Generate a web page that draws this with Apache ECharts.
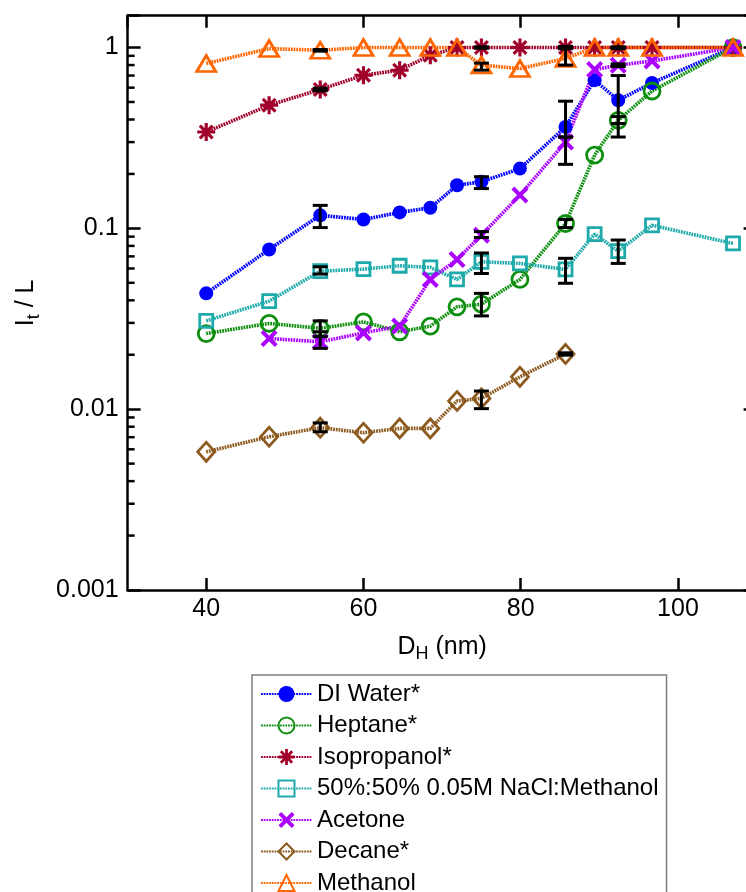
<!DOCTYPE html>
<html><head><meta charset="utf-8">
<script src="https://cdn.jsdelivr.net/npm/echarts@6/dist/echarts.min.js"></script>
<style>html,body{margin:0;padding:0;background:#fff;}#c{width:746px;height:892px;}</style>
</head><body><div id="c"></div>
<script>
// ---------- data ----------
const xValues = [40, 48, 54.5, 60, 64.6, 68.5, 71.9, 75, 79.9, 85.7, 89.4, 92.4, 96.7, 107];
const diWater     = [0.0437, 0.0764, 0.118, 0.112, 0.1225, 0.130, 0.173, 0.181, 0.214, 0.364, 0.66, 0.511, 0.637, 1.0];
const heptane     = [0.0262, 0.0298, 0.028, 0.0304, 0.0268, 0.0288, 0.0368, 0.0381, 0.0522, 0.1064, 0.254, 0.396, 0.575, 1.0];
const isopropanol = [0.341, 0.48, 0.586, 0.703, 0.749, 0.906, 1.0, 1.0, 1.0, 1.0, 1.0, 1.0, 1.0, 1.0];
const naclMethanol= [0.0308, 0.0396, 0.058, 0.0595, 0.0621, 0.0608, 0.0522, 0.0653, 0.064, 0.0593, 0.093, 0.0748, 0.104, 0.0825];
const acetone     = [null, 0.0246, 0.0236, 0.0264, 0.0288, 0.0522, 0.0673, 0.0917, 0.1527, 0.30, 0.756, 0.798, 0.843, 1.0];
const decane      = [0.00581, 0.00704, 0.0079, 0.00741, 0.00783, 0.00783, 0.0111, 0.01147, 0.0151, 0.0202, null, null, null, null];
const methanol    = [0.816, 0.987, 0.966, 1.0, 1.0, 1.0, 1.0, 0.80, 0.765, 0.87, 1.0, 1.0, 1.0, 1.0];

// error bars: [x, low, high]
const diWaterErr   = [[54.5, 0.101, 0.134], [75, 0.166, 0.193], [85.7, 0.32, 0.505], [92.4, 0.32, 0.70]];
const heptaneErr   = [[54.5, 0.0252, 0.0308], [75, 0.0328, 0.0437], [85.7, 0.101, 0.112], [92.4, 0.38, 0.415]];
const isoErr       = [[54.5, 0.576, 0.596], [75, 0.99, 1.01], [85.7, 0.985, 1.015]];
const naclErr      = [[54.5, 0.0559, 0.0613], [75, 0.0563, 0.0731], [85.7, 0.0497, 0.0683], [92.4, 0.064, 0.0862]];
const acetoneErr   = [[54.5, 0.0217, 0.0268], [75, 0.089, 0.096], [85.7, 0.226, 0.32], [92.4, 0.785, 0.812]];
const decaneErr    = [[54.5, 0.0075, 0.0084], [75, 0.01007, 0.0126], [85.7, 0.0199, 0.0205]];
const methanolErr  = [[54.5, 0.955, 0.975], [75, 0.75, 0.82], [85.7, 0.80, 1.0], [92.4, 0.985, 1.01]];

const seriesNames = ['DI Water*', 'Heptane*', 'Isopropanol*', '50%:50% 0.05M NaCl:Methanol', 'Acetone', 'Decane*', 'Methanol'];
const xTickLabels = ['40', '60', '80', '100'];
const yTickValues = [0.001, 0.01, 0.1, 1];
const yTickLabels = ['0.001', '0.01', '0.1', '1'];
const yMinorDecades = [0.001, 0.01, 0.1];
const yMinorMultipliers = [2, 3, 4, 5, 6, 7, 8, 9];

const X_MIN = 30, X_MAX = 110, Y_MIN = 0.001, Y_MAX = 1.5;
const FONT = '"Liberation Sans", Arial, sans-serif';

// ---------- symbols ----------
const ASTERISK = 'path://M-1.4,-8L1.4,-8L1.4,8L-1.4,8Z M-8,-1.4L8,-1.4L8,1.4L-8,1.4Z M6.65,4.67L4.67,6.65L-6.65,-4.67L-4.67,-6.65Z M4.67,-6.65L6.65,-4.67L-4.67,6.65L-6.65,4.67Z';
const XMARK = 'path://M6.79,4.53L4.53,6.79L-6.79,-4.53L-4.53,-6.79Z M4.53,-6.79L6.79,-4.53L-4.53,6.79L-6.79,4.53Z';

function pairs(ys) { return xValues.map((x, i) => [x, ys[i]]); }

function lineSeries(name, ys, color, symbol, size, open) {
  return {
    type: 'line', name: name, data: pairs(ys),
    symbol: symbol, symbolSize: size,
    showAllSymbol: true,
    lineStyle: { color: color, width: 3.6, type: [1.8, 0.9] },
    itemStyle: open ? { color: 'rgba(255,255,255,0)', borderColor: color, borderWidth: 2.8 }
                    : { color: color, borderWidth: 0 },
    emphasis: { disabled: true },
    z: 2
  };
}

const yMinorTicks = [];
yMinorDecades.forEach(d => yMinorMultipliers.forEach(m => yMinorTicks.push(+(d * m).toPrecision(6))));

const allErr = [].concat(diWaterErr, heptaneErr, isoErr, naclErr, acetoneErr, decaneErr, methanolErr);

function renderErr(params, api) {
  const x = api.value(0), lo = api.value(1), hi = api.value(2);
  const t = api.coord([x, hi]), b = api.coord([x, lo]);
  const hw = 7.5;
  const st = { stroke: '#000', lineWidth: 3 };
  return { type: 'group', children: [
    { type: 'line', shape: { x1: t[0], y1: t[1], x2: b[0], y2: b[1] }, style: st },
    { type: 'line', shape: { x1: t[0] - hw, y1: t[1], x2: t[0] + hw, y2: t[1] }, style: st },
    { type: 'line', shape: { x1: b[0] - hw, y1: b[1], x2: b[0] + hw, y2: b[1] }, style: st }
  ]};
}

function renderMinor(params, api) {
  const v = api.value(1);
  const l = api.coord([X_MIN, v]), r = api.coord([X_MAX, v]);
  const st = { stroke: '#000', lineWidth: 2.5 };
  return { type: 'group', children: [
    { type: 'line', shape: { x1: l[0], y1: l[1], x2: l[0] + 7, y2: l[1] }, style: st },
    { type: 'line', shape: { x1: r[0] - 7, y1: r[1], x2: r[0], y2: r[1] }, style: st }
  ]};
}

function yFmt(v) {
  for (let i = 0; i < yTickValues.length; i++) {
    if (Math.abs(v - yTickValues[i]) / yTickValues[i] < 1e-6) return yTickLabels[i];
  }
  return '';
}
function xFmt(v) {
  const s = String(Math.round(v));
  return xTickLabels.indexOf(s) >= 0 ? s : '';
}

const axisLineStyle = { show: true, onZero: false, lineStyle: { color: '#000', width: 2.5 } };

const option = {
  animation: false,
  backgroundColor: '#fff',
  textStyle: { fontFamily: FONT },
  grid: { left: 127.6, top: 15.7, width: 629, bottom: 302, containLabel: false, outerBoundsMode: 'none' },
  xAxis: [{
    type: 'value', position: 'bottom', min: X_MIN, max: X_MAX, minInterval: 20, maxInterval: 20,
    axisLine: axisLineStyle,
    axisTick: { show: true, inside: true, length: 12, lineStyle: { color: '#000', width: 2.5 } },
    axisLabel: { show: true, margin: 7, fontSize: 25, color: '#000', fontFamily: FONT, formatter: xFmt,
                 showMinLabel: false, showMaxLabel: false },
    splitLine: { show: false },
    name: '{a|D}{s|H}{a| (nm)}', nameLocation: 'middle', nameGap: 41,
    nameTextStyle: { rich: {
      a: { fontSize: 25, color: '#000', fontFamily: FONT },
      s: { fontSize: 18, color: '#000', fontFamily: FONT, padding: [14, 0, 0, 0] }
    } }
  }, {
    type: 'value', position: 'top', min: X_MIN, max: X_MAX, minInterval: 20, maxInterval: 20,
    axisLine: axisLineStyle,
    axisTick: { show: true, inside: true, length: 12, lineStyle: { color: '#000', width: 2.5 } },
    axisLabel: { show: false }, splitLine: { show: false }
  }],
  yAxis: [{
    type: 'log', logBase: 10, position: 'left', min: Y_MIN, max: Y_MAX,
    axisLine: axisLineStyle,
    axisTick: { show: true, inside: true, length: 13, lineStyle: { color: '#000', width: 2.5 } },
    axisLabel: { show: true, margin: 9, fontSize: 25, color: '#000', fontFamily: FONT, formatter: yFmt },
    splitLine: { show: false }, minorTick: { show: false },
    name: '{a|I}{s|t}{a| / L}', nameLocation: 'middle', nameGap: 85, nameRotate: 90,
    nameTextStyle: { rich: {
      a: { fontSize: 25, color: '#000', fontFamily: FONT },
      s: { fontSize: 18, color: '#000', fontFamily: FONT, padding: [14, 0, 0, 0] }
    } }
  }, {
    type: 'log', logBase: 10, position: 'right', min: Y_MIN, max: Y_MAX,
    axisLine: axisLineStyle,
    axisTick: { show: true, inside: true, length: 13, lineStyle: { color: '#000', width: 2.5 } },
    axisLabel: { show: false }, splitLine: { show: false }
  }],
  legend: {
    data: seriesNames, orient: 'vertical', left: 252, top: 675, height: 260,
    padding: [7, 8, 7, 8], itemGap: 7.5, itemWidth: 51, itemHeight: 20,
    borderColor: '#7f7f7f', borderWidth: 1.5, backgroundColor: '#fff',
    selectedMode: false,
    textStyle: { fontSize: 24, color: '#000', fontFamily: FONT }
  },
  series: [
    lineSeries(seriesNames[0], diWater, '#0000ff', 'circle', 14, false),
    lineSeries(seriesNames[1], heptane, '#0f8f0f', 'circle', 16, true),
    lineSeries(seriesNames[2], isopropanol, '#a0002a', ASTERISK, 18, false),
    lineSeries(seriesNames[3], naclMethanol, '#1eaaaa', 'rect', 13, true),
    lineSeries(seriesNames[4], acetone, '#aa00ff', XMARK, 17, false),
    lineSeries(seriesNames[5], decane, '#8c5a1e', 'diamond', [17, 19], true),
    lineSeries(seriesNames[6], methanol, '#ff6600', 'triangle', [19, 16], true),
    {
      type: 'custom', name: 'errorbars', data: allErr, renderItem: renderErr,
      encode: { x: 0, y: [1, 2] }, z: 5, silent: true
    },
    {
      type: 'custom', name: 'minorTicks', data: yMinorTicks.map(v => [X_MIN, v]), renderItem: renderMinor,
      encode: { x: 0, y: 1 }, z: 6, silent: true
    }
  ]
};

const chart = echarts.init(document.getElementById('c'), null, { renderer: 'canvas' });
chart.setOption(option);
</script>
</body></html>
